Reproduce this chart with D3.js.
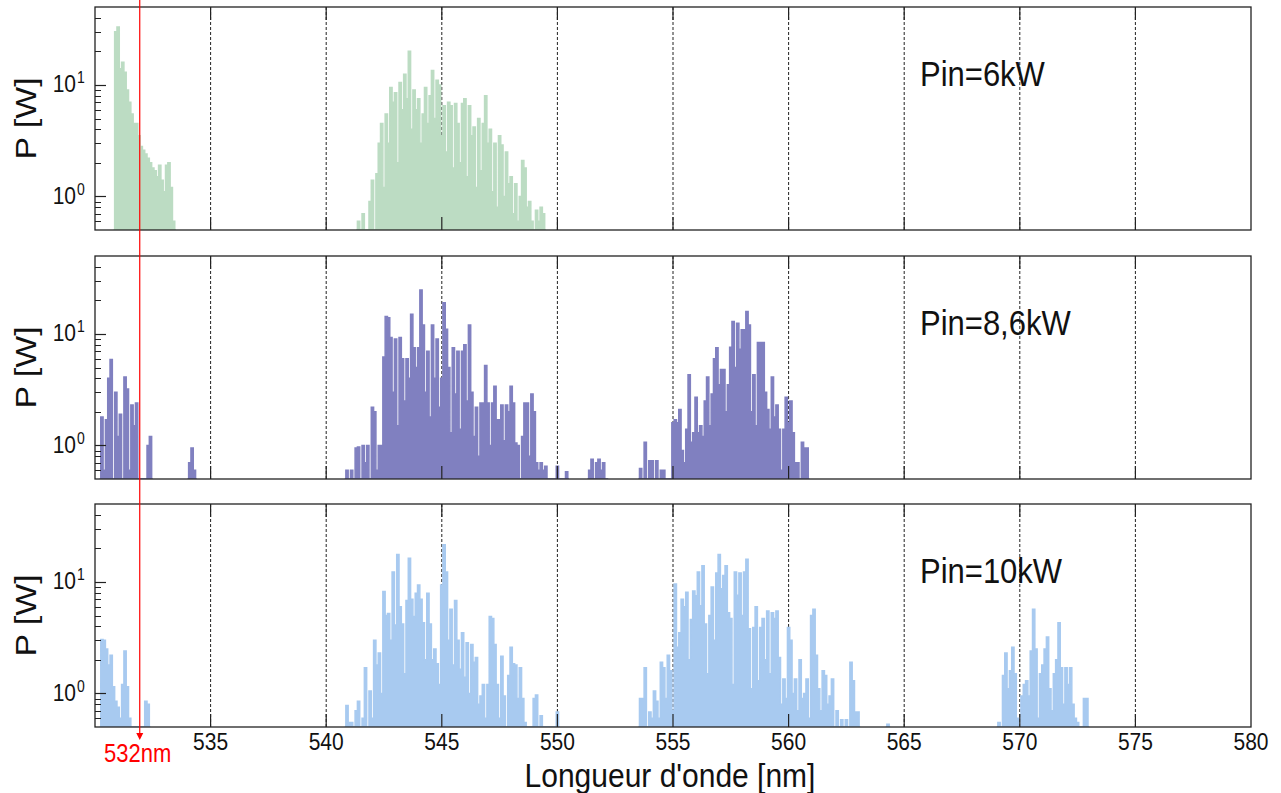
<!DOCTYPE html>
<html>
<head>
<meta charset="utf-8">
<script src="https://cdn.jsdelivr.net/npm/d3@7"></script>
<style>
  body { margin: 0; background: #fff; }
  svg { display: block; }
  text { font-family: "Liberation Sans", Arial, sans-serif; }
</style>
</head>
<body>
<svg id="chart" width="1281" height="793"></svg>
<script>
// wavelength grid step of every burst below (nm)
const step = 0.1;

// Pin = 6kW (green)
const g6aStart = 530.8;
const g6a = [0.3, 30, 33, 14, 16, 13, 9, 7, 5.5, 4.5, 4.5, 3.5, 2.8, 2.6, 2.4, 2.2, 2.0, 1.8, 1.7, 1.5,
  1.9, 1.4, 1.1, 1.9, 2.0, 1.2, 0.6, 0.3];
const g6bStart = 541.3;
const g6b = [0.3, 0.6, 0.3, 0.7, 0.3, 0.3, 0.9, 1.4, 0.4, 1.6, 3.0, 4.5, 1.2, 5.5, 3.0, 9.5, 7.0, 8.5, 2.0, 10.5,
  6.0, 12.5, 7.5, 20, 4.0, 9.0, 6.0, 7.5, 3.0, 5.5, 9.5, 4.5, 8.0, 13.5, 5.0, 11, 10, 3.5, 6.5, 2.5,
  7.0, 6.5, 1.8, 6.8, 4.5, 2.0, 6.8, 7.5, 1.5, 6.5, 3.5, 4.2, 1.2, 5.0, 1.7, 4.5, 8.0, 3.0, 4.0, 1.1,
  3.0, 0.8, 3.5, 2.9, 1.0, 2.5, 1.3, 1.5, 0.7, 1.3, 0.6, 1.0, 2.1, 1.8, 0.8, 0.9, 0.6, 0.5, 0.75, 0.6,
  0.8, 0.7, 0.3];

// Pin = 8,6kW (purple)
const p86aStart = 530.2;
const p86a = [0.3, 1.8, 0.6, 1.7, 4.0, 5.9, 0.5, 3.0, 1.2, 1.9, 0.4, 4.1, 3.2, 0.6, 2.3, 1.5, 2.4, 0.3, 0.3, 0.3,
  0.3, 1.0, 1.2, 0.3];
const p86bStart = 534.0;
const p86b = [0.3, 0.7, 0.95, 0.6, 0.3];
const p86cStart = 540.8;
const p86c = [0.3, 0.6, 0.3, 0.6, 0.4, 0.95, 0.97, 0.5, 1.0, 0.7, 1.0, 0.4, 2.2, 2.0, 0.6, 1.0, 1.0, 6.2, 14.3, 14.0,
  9.3, 3.0, 9.0, 1.5, 9.3, 6.0, 2.5, 6.0, 4.0, 15, 7.5, 5.0, 7.5, 24.8, 12, 3.0, 7.0, 1.8, 12, 4.0,
  9.0, 2.2, 4.0, 19, 11, 5.0, 1.3, 7.5, 2.9, 7.0, 1.4, 7.0, 8.0, 2.5, 12, 3.0, 1.2, 2.2, 0.8, 2.4,
  2.4, 5.2, 2.4, 1.0, 2.4, 3.4, 1.7, 1.7, 2.3, 1.1, 2.3, 2.0, 3.4, 2.4, 1.05, 1.0, 0.5, 1.2, 2.4, 2.4,
  0.8, 2.9, 2.0, 0.7, 0.6, 0.7, 0.6, 0.65, 0.3, 0.3, 0.3, 0.3, 0.65, 0.3, 0.3, 0.3, 0.58, 0.3];
const p86dStart = 551.3;
const p86d = [0.3, 0.6, 0.75, 0.5, 0.7, 0.75, 0.6, 0.7, 0.4, 0.3];
const p86eStart = 553.5;
const p86e = [0.3, 0.62, 0.5, 1.07, 0.4, 0.73, 0.73, 0.5, 0.73, 0.3, 0.6, 0.6, 0.3, 0.3, 0.3, 1.6, 1.7, 1.6, 2.1, 0.9,
  0.7, 1.4, 4.3, 1.07, 1.3, 2.7, 1.3, 1.5, 1.2, 2.5, 4.1, 1.5, 2.9, 6.0, 7.5, 3.5, 4.8, 4.8, 2.0, 3.5,
  7.6, 12.9, 5.0, 12.5, 7.3, 10.9, 10.9, 15.9, 12, 2.0, 4.3, 1.5, 8.4, 8.4, 8.4, 3.0, 2.1, 1.4, 4.1, 1.8,
  2.3, 1.4, 0.6, 1.4, 2.7, 1.6, 2.5, 1.3, 0.7, 0.7, 0.5, 1.07, 0.95, 0.95, 0.3];

// Pin = 10kW (light blue)
const b10aStart = 530.2;
const b10a = [0.3, 3.05, 3.0, 2.5, 1.8, 2.2, 1.15, 0.85, 0.75, 0.6, 1.2, 2.4, 1.15, 0.6, 0.5, 0.3, 0.3, 0.3, 0.3, 0.3,
  0.85, 0.8, 0.3];
const b10bStart = 540.8;
const b10b = [0.3, 0.78, 0.55, 0.55, 0.3, 0.7, 0.85, 0.4, 0.6, 1.7, 0.5, 1.05, 0.6, 3.0, 1.8, 2.3, 1.0, 8.2, 5.0, 5.2,
  3.0, 12.3, 4.1, 17.6, 6.0, 4.2, 1.5, 6.8, 16.3, 7.0, 4.9, 7.9, 9.4, 7.0, 4.3, 2.0, 7.9, 4.2, 2.0, 2.5,
  1.85, 1.2, 9.4, 21.5, 12.3, 3.0, 5.7, 1.8, 6.8, 3.0, 1.65, 3.5, 1.4, 2.85, 1.0, 2.75, 1.9, 2.1, 0.8, 0.95,
  1.2, 0.6, 1.2, 4.9, 4.7, 2.75, 1.2, 0.6, 2.15, 0.95, 0.5, 1.45, 2.6, 1.85, 1.8, 0.9, 1.7, 0.9, 0.55, 0.3,
  0.3, 0.3, 0.9, 0.97, 0.5, 0.63, 0.3, 0.3, 0.3, 0.3, 0.3, 0.3, 0.68, 0.3];
const b10cStart = 553.5;
const b10c = [0.3, 0.9, 0.9, 1.7, 0.5, 0.68, 0.6, 1.05, 0.85, 0.6, 1.9, 1.7, 0.9, 2.2, 1.6, 0.7, 9.6, 2.6, 3.5, 7.0,
  6.0, 8.1, 2.0, 4.6, 8.3, 7.5, 12.3, 6.1, 14, 4.2, 1.5, 5.0, 9.0, 3.0, 12, 17.6, 8.7, 11.4, 14, 5.3,
  4.7, 1.2, 12.3, 7.6, 12, 5.0, 12.3, 16, 3.8, 1.1, 3.9, 6.0, 1.3, 3.9, 4.7, 2.0, 5.5, 1.5, 5.3, 4.7,
  5.5, 2.1, 0.8, 1.35, 0.9, 3.9, 3.0, 1.0, 1.35, 0.7, 2.0, 0.9, 1.0, 1.35, 0.6, 5.0, 5.7, 2.2, 1.1, 0.7,
  1.6, 1.45, 0.8, 0.95, 1.35, 0.5, 0.7, 0.3, 0.58, 0.3, 0.58, 0.3, 1.9, 1.3, 0.68, 0.68, 0.3];
const b10dStart = 564.2;
const b10d = [0.3, 0.53, 0.3];
const b10eStart = 569.0;
const b10e = [0.3, 0.55, 0.3, 1.45, 2.3, 1.1, 1.6, 2.6, 1.5, 0.6, 0.4, 0.95, 1.2, 1.3, 0.95, 2.4, 5.7, 2.5, 0.6, 1.5,
  1.8, 2.5, 3.2, 1.1, 0.7, 1.5, 2.0, 4.3, 1.7, 0.8, 1.7, 1.2, 1.7, 0.8, 0.6, 0.55, 0.3, 0.4, 0.9, 0.9, 0.3];

const panelLabels = ["Pin=6kW", "Pin=8,6kW", "Pin=10kW"];
const panelColors = ["#bcdcc3", "#8080c0", "#a8caf0"];
const xTicks = [535, 540, 545, 550, 555, 560, 565, 570, 575, 580];
const yMajor = [1, 10];
const yMinor = [0.6, 0.7, 0.8, 0.9, 2, 3, 4, 5, 6, 7, 8, 9, 20, 30, 40];
const markerWavelength = 532;
const markerLabel = "532nm";

const panels = [
  { label: panelLabels[0], color: panelColors[0], bursts: [[g6aStart, g6a], [g6bStart, g6b]] },
  { label: panelLabels[1], color: panelColors[1], bursts: [[p86aStart, p86a], [p86bStart, p86b], [p86cStart, p86c], [p86dStart, p86d], [p86eStart, p86e]] },
  { label: panelLabels[2], color: panelColors[2], bursts: [[b10aStart, b10a], [b10bStart, b10b], [b10cStart, b10c], [b10dStart, b10d], [b10eStart, b10e]] }
];

const svg = d3.select("#chart");
const left = 95, right = 1251;
const panelTops = [7, 256, 504];
const panelH = 223;

const x = d3.scaleLinear().domain([530, 580]).range([left, right]);

// text that is a bit taller than wide, like the original figure
function label(sel, tx, ty, str, size, anchor, color) {
  return sel.append("text")
    .attr("transform", "translate(" + tx + "," + ty + ") scale(1,1.13)")
    .attr("text-anchor", anchor)
    .attr("font-size", size)
    .attr("fill", color || "#111")
    .text(str);
}

panels.forEach(function (p, i) {
  let top = panelTops[i];
  let bottom = top + panelH;
  let y = d3.scaleLog().domain([0.5, 50]).range([bottom, top]).clamp(true);
  let g = svg.append("g");

  let clipId = "clip" + i;
  svg.append("clipPath").attr("id", clipId)
    .append("rect").attr("x", left).attr("y", top).attr("width", right - left).attr("height", panelH);

  // dashed vertical grid
  g.selectAll(".grid")
    .data(xTicks.slice(0, -1))
    .enter().append("line")
    .attr("x1", d => x(d)).attr("x2", d => x(d))
    .attr("y1", top).attr("y2", bottom)
    .attr("stroke", "#222").attr("stroke-width", 1)
    .attr("stroke-dasharray", "3,2");

  // spectra
  let area = d3.area()
    .x(d => x(d[0]))
    .y0(bottom)
    .y1(d => y(d[1]))
    .curve(d3.curveStep);
  let series = g.append("g").attr("clip-path", "url(#" + clipId + ")");
  p.bursts.forEach(function (b) {
    let pts = b[1].map((v, k) => [b[0] + k * step, v]);
    series.append("path")
      .attr("d", area(pts))
      .attr("fill", p.color)
      .attr("stroke", p.color)
      .attr("stroke-width", 1.5);
  });

  // x ticks (inside, top & bottom)
  g.selectAll(".xtb")
    .data(xTicks.slice(0, -1))
    .enter().append("line")
    .attr("x1", d => x(d)).attr("x2", d => x(d))
    .attr("y1", bottom).attr("y2", bottom - 13)
    .attr("stroke", "#222").attr("stroke-width", 1.2);
  g.selectAll(".xtt")
    .data(xTicks.slice(0, -1))
    .enter().append("line")
    .attr("x1", d => x(d)).attr("x2", d => x(d))
    .attr("y1", top).attr("y2", top + 13)
    .attr("stroke", "#222").attr("stroke-width", 1.2);

  // y ticks (inside, left)
  g.selectAll(".ymin")
    .data(yMinor)
    .enter().append("line")
    .attr("x1", left).attr("x2", left + 6)
    .attr("y1", d => Math.round(y(d)) + 0.5).attr("y2", d => Math.round(y(d)) + 0.5)
    .attr("stroke", "#222").attr("stroke-width", 1);
  g.selectAll(".ymaj")
    .data(yMajor)
    .enter().append("line")
    .attr("x1", left).attr("x2", left + 11)
    .attr("y1", d => Math.round(y(d)) + 0.5).attr("y2", d => Math.round(y(d)) + 0.5)
    .attr("stroke", "#222").attr("stroke-width", 1.2);

  // y tick labels 10^0, 10^1
  yMajor.forEach(function (v) {
    let ty = y(v);
    label(g, 76, ty + 7.5, "10", 21, "end");
    label(g, 77, ty - 1.5, Math.round(Math.log10(v)), 14, "start");
  });

  // frame
  g.append("rect")
    .attr("x", left).attr("y", top)
    .attr("width", right - left).attr("height", panelH)
    .attr("fill", "none").attr("stroke", "#222").attr("stroke-width", 1.3);

  // y label
  g.append("text")
    .attr("transform", "translate(36," + (top + panelH / 2) + ") rotate(-90) scale(1.13,1)")
    .attr("text-anchor", "middle")
    .attr("font-size", 30)
    .attr("fill", "#111")
    .text("P [W]");

  // panel annotation
  label(g, 920, top + 79, p.label, 31, "start");
});

// x tick labels
xTicks.forEach(function (d) {
  label(svg, x(d), 750, d, 21, "middle");
});

// x axis title
label(svg, 670, 787, "Longueur d'onde [nm]", 30, "middle");

// 532 nm marker
let mx = x(markerWavelength) - 1.5;
svg.append("line")
  .attr("x1", mx).attr("x2", mx)
  .attr("y1", 0).attr("y2", 736)
  .attr("stroke", "#ff0000").attr("stroke-width", 1.2);
svg.append("path")
  .attr("d", "M" + (mx - 3.5) + ",733 L" + (mx + 3.5) + ",733 L" + mx + ",740 Z")
  .attr("fill", "#ff0000");
label(svg, mx - 2, 762, markerLabel, 22, "middle", "#ff0000");
</script>
</body>
</html>
